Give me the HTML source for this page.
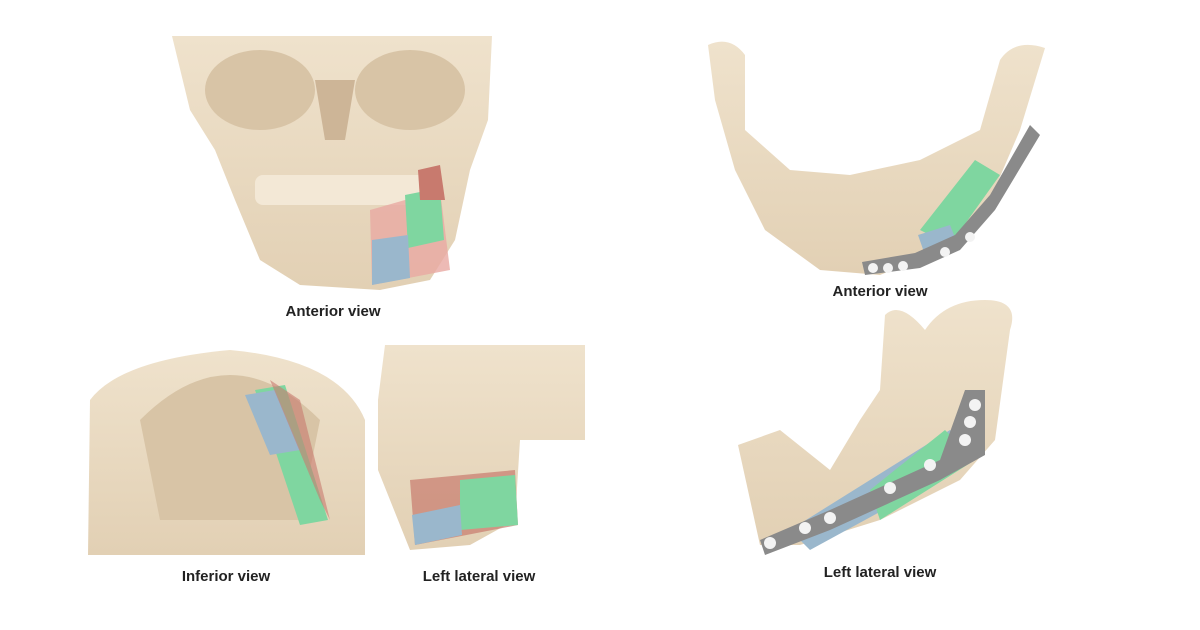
<!DOCTYPE html>
<html><head><meta charset="utf-8"><style>
html,body{margin:0;padding:0;background:#fff;}
.w{position:relative;width:1200px;height:630px;overflow:hidden;font-family:"Liberation Sans",sans-serif;}
.l{position:absolute;font-weight:bold;font-size:15px;color:#222;transform:translateX(-50%);white-space:nowrap;}
</style></head><body><div class="w">
<svg width="1200" height="630" style="position:absolute;left:0;top:0">
<defs><linearGradient id="b" x1="0" y1="0" x2="0" y2="1"><stop offset="0" stop-color="#efe2cc"/><stop offset="1" stop-color="#e2d0b4"/></linearGradient></defs>
<!-- skull anterior -->
<path d="M172 36 H492 L488 120 L470 170 L455 240 L430 280 L380 290 L300 285 L260 260 L235 200 L215 150 L190 110 Z" fill="url(#b)"/>
<ellipse cx="260" cy="90" rx="55" ry="40" fill="#d8c4a6"/>
<ellipse cx="410" cy="90" rx="55" ry="40" fill="#d8c4a6"/>
<path d="M315 80 L355 80 L345 140 L325 140 Z" fill="#cdb597"/>
<rect x="255" y="175" width="180" height="30" rx="8" fill="#f3e8d6"/>
<path d="M370 210 L440 190 L450 270 L372 285 Z" fill="#e8a9a2" opacity=".8"/>
<path d="M405 195 L440 188 L444 240 L408 248 Z" fill="#7fd6a0"/>
<path d="M372 240 L408 235 L410 278 L372 285 Z" fill="#9ab7cc"/>
<path d="M418 170 L440 165 L445 200 L420 200 Z" fill="#c87a6e"/>
<!-- inferior view -->
<path d="M90 400 Q120 360 230 350 Q340 360 365 420 L365 555 L88 555 Z" fill="url(#b)"/>
<path d="M140 420 Q230 330 320 420 L300 520 L160 520 Z" fill="#d8c4a6"/>
<path d="M255 390 L285 385 L328 520 L300 525 Z" fill="#7fd6a0"/>
<path d="M245 395 L275 390 L300 450 L270 455 Z" fill="#9ab7cc"/>
<path d="M270 380 L300 400 L330 520 L320 500 Z" fill="#c87a6e" opacity=".6"/>
<!-- lateral skull -->
<path d="M385 345 H585 V440 L520 440 L515 520 L470 545 L410 550 L378 470 L378 400 Z" fill="url(#b)"/>
<path d="M410 480 L515 470 L518 525 L415 545 Z" fill="#c87a6e" opacity=".7"/>
<path d="M460 480 L515 475 L518 525 L460 530 Z" fill="#7fd6a0"/>
<path d="M412 515 L460 505 L462 535 L415 545 Z" fill="#9ab7cc"/>
<!-- mandible top right -->
<path d="M708 45 Q730 35 745 55 L745 130 L790 170 L850 175 L920 160 L980 130 L1000 60 Q1015 38 1045 48 L1020 130 L990 200 L940 250 L880 275 L820 270 L765 230 L735 170 L715 100 Z" fill="url(#b)"/>
<path d="M920 230 L975 160 L1000 175 L950 245 Z" fill="#7fd6a0"/>
<path d="M918 235 L950 225 L960 250 L925 255 Z" fill="#9ab7cc"/>
<path d="M1030 125 L1040 135 L995 210 L960 250 L920 268 L865 275 L862 262 L915 253 L955 235 L990 195 Z" fill="#8a8a8a"/>
<g fill="#f3f3f3"><circle cx="873" cy="268" r="5"/><circle cx="888" cy="268" r="5"/><circle cx="903" cy="266" r="5"/><circle cx="945" cy="252" r="5"/><circle cx="970" cy="237" r="5"/></g>
<!-- mandible lateral -->
<path d="M885 315 Q900 300 925 330 Q945 300 985 300 Q1020 300 1010 330 L995 440 L960 480 L880 520 L800 545 L760 545 L738 445 L780 430 L830 470 L860 420 L880 390 Z" fill="url(#b)"/>
<path d="M790 530 L950 430 L975 460 L810 550 Z" fill="#9ab7cc"/>
<path d="M870 490 L945 430 L975 460 L880 520 Z" fill="#7fd6a0"/>
<path d="M760 540 L830 510 L940 460 L965 390 L985 390 L985 455 L940 480 L830 530 L765 555 Z" fill="#8a8a8a"/>
<g fill="#f3f3f3"><circle cx="975" cy="405" r="6"/><circle cx="970" cy="422" r="6"/><circle cx="965" cy="440" r="6"/><circle cx="930" cy="465" r="6"/><circle cx="890" cy="488" r="6"/><circle cx="830" cy="518" r="6"/><circle cx="805" cy="528" r="6"/><circle cx="770" cy="543" r="6"/></g>
</svg>
<div class="l" style="left:333px;top:303px">Anterior view</div>
<div class="l" style="left:880px;top:283px">Anterior view</div>
<div class="l" style="left:226px;top:568px">Inferior view</div>
<div class="l" style="left:479px;top:568px">Left lateral view</div>
<div class="l" style="left:880px;top:564px">Left lateral view</div>
</div></body></html>
